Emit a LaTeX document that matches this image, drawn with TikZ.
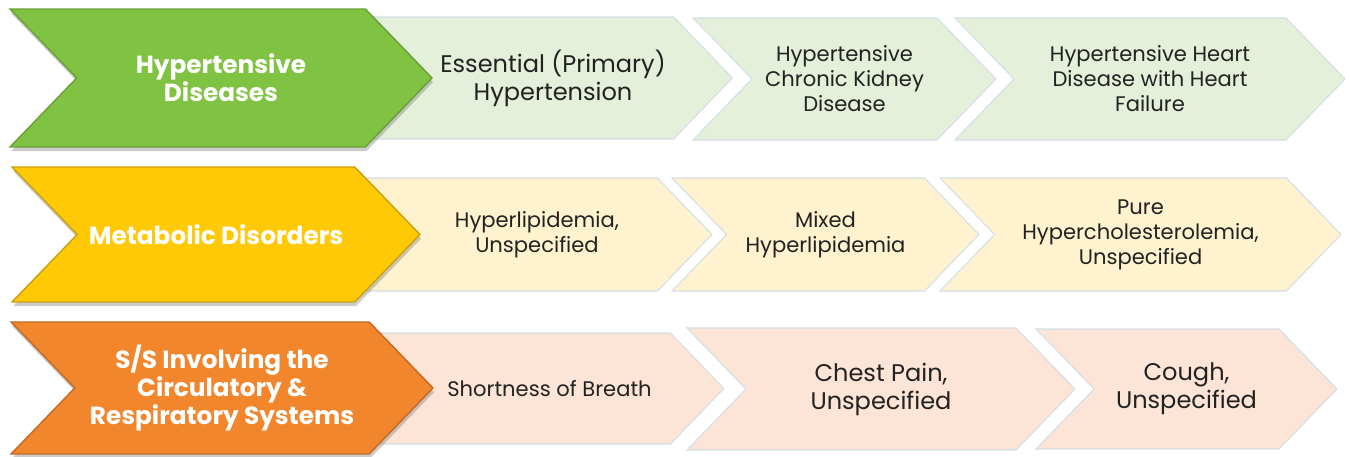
\documentclass[tikz,border=0pt]{standalone}
\usepackage{fontspec}
\setmainfont{Poppins}
\usetikzlibrary{shapes.symbols, shadows}

\definecolor{grnhead}{HTML}{80C242}
\definecolor{grnedge}{HTML}{6A9F35}
\definecolor{grnlite}{HTML}{E4F0D9}
\definecolor{ylwhead}{HTML}{FFC906}
\definecolor{ylwedge}{HTML}{C9A010}
\definecolor{ylwlite}{HTML}{FFF3CF}
\definecolor{orghead}{HTML}{F1862D}
\definecolor{orgedge}{HTML}{C26A22}
\definecolor{orglite}{HTML}{FCE5D6}
\definecolor{edgegray}{HTML}{D3DEE6}
\definecolor{txtdark}{HTML}{222222}

\tikzset{
  % --- Chevrons ----------------------------------------------
  chev/.style={signal, signal from=west, signal to=east,
    signal pointer angle=92, align=center, inner sep=0pt},
  headchev/.style={chev, text=white, line width=0.8pt,
    font=\fontsize{14.1}{15.9}\selectfont\bfseries,
    drop shadow={opacity=0.4, shadow xshift=0.6pt, shadow yshift=-2.4pt}},
  stepchev/.style={chev, draw=edgegray, line width=0.6pt, text=txtdark},
  % --- Text sizes ---------------------------------------------
  bigtxt/.style={font=\fontsize{13.7}{15.9}\selectfont},
  smalltxt/.style={font=\fontsize{12}{14.2}\selectfont}
}

\begin{document}
\begin{tikzpicture}[x=0.02cm, y=-0.02cm]

  \useasboundingbox (0,0) rectangle (1351,456);

  % --- Row 1: hypertensive ---
  \node[stepchev, bigtxt, fill=grnlite, minimum width=7.18cm,
    minimum height=2.44cm] (HtA) at (553,78)
    {Essential (Primary)\\Hypertension};
  \node[stepchev, smalltxt, fill=grnlite, minimum width=6.06cm,
    minimum height=2.44cm] (HtB) at (844.5,79)
    {Hypertensive\\Chronic Kidney\\Disease};
  \node[stepchev, smalltxt, fill=grnlite, minimum width=7.80cm,
    minimum height=2.44cm] (HtC) at (1150,79)
    {Hypertensive Heart\\Disease with Heart\\Failure};
  \node[headchev, fill=grnhead, draw=grnedge, minimum width=8.44cm,
    minimum height=2.76cm] (Ht) at (221,78)
    {Hypertensive\\Diseases};

  % --- Row 2: metabolic ---
  \node[stepchev, smalltxt, fill=ylwlite, minimum width=7.00cm,
    minimum height=2.26cm] (MdA) at (537,234.5)
    {Hyperlipidemia,\\Unspecified};
  \node[stepchev, smalltxt, fill=ylwlite, minimum width=6.14cm,
    minimum height=2.26cm] (MdB) at (825.5,234.5)
    {Mixed\\Hyperlipidemia};
  \node[stepchev, smalltxt, fill=ylwlite, minimum width=8.02cm,
    minimum height=2.26cm] (MdC) at (1140.5,234.5)
    {Pure\\Hypercholesterolemia,\\Unspecified};
  \node[headchev, fill=ylwhead, draw=ylwedge, minimum width=8.16cm,
    minimum height=2.70cm] (Md) at (216,234.5)
    {Metabolic Disorders};

  % --- Row 3: circulatory / respiratory ---
  \node[stepchev, smalltxt, fill=orglite, minimum width=6.98cm,
    minimum height=2.22cm] (SsA) at (549.5,388.5)
    {Shortness of Breath};
  \node[stepchev, bigtxt, fill=orglite, minimum width=7.76cm,
    minimum height=2.44cm] (SsB) at (881,389)
    {Chest Pain,\\Unspecified};
  \node[stepchev, bigtxt, fill=orglite, minimum width=6.02cm,
    minimum height=2.40cm] (SsC) at (1186.5,389)
    {Cough,\\Unspecified};
  \node[headchev, fill=orghead, draw=orgedge, minimum width=8.44cm,
    minimum height=2.64cm] (Ss) at (222,388)
    {S/S Involving the\\Circulatory \&\\Respiratory Systems};

\end{tikzpicture}
\end{document}
